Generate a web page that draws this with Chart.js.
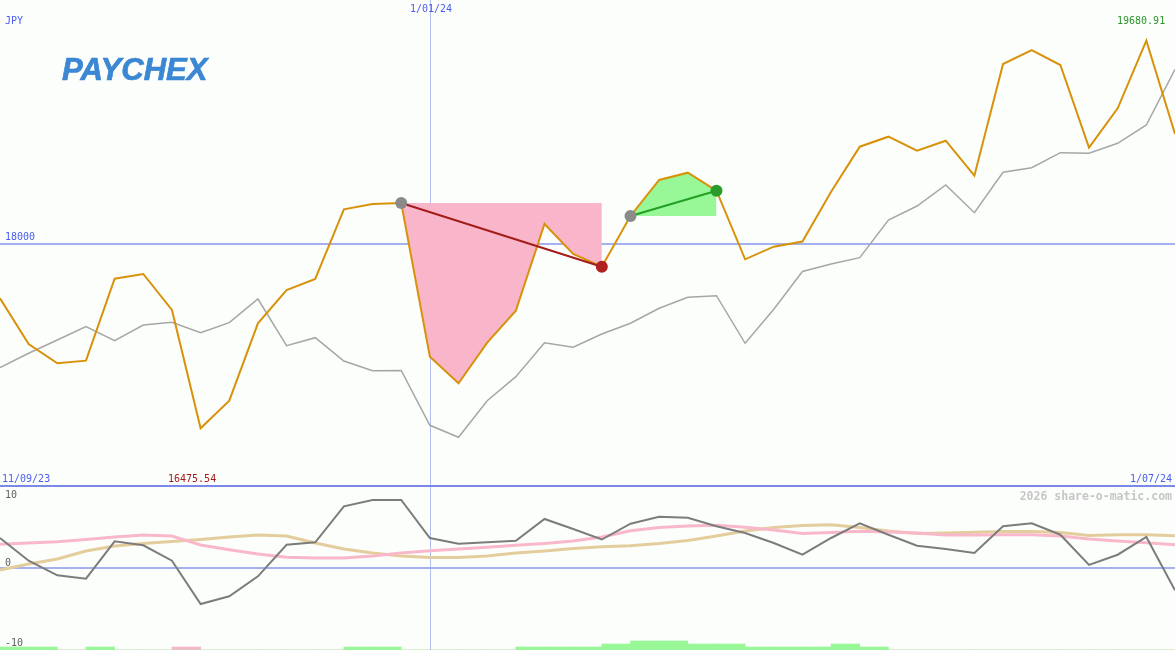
<!DOCTYPE html>
<html>
<head>
<meta charset="utf-8">
<script src="https://cdn.jsdelivr.net/npm/chart.js@4/dist/chart.umd.min.js"></script>
<style>
  body { margin: 0; background: #fcfefc; }
  #wrap { position: relative; width: 1175px; height: 650px; overflow: hidden; }
  .box { position: absolute; left: 0; width: 1175px; }
  .t { position: absolute; font: 10px "DejaVu Sans Mono", monospace; line-height: 10px; white-space: nowrap; }
</style>
</head>
<body>
<div id="wrap">
  <div class="box" style="top:0;height:488px"><canvas id="mainChart"></canvas></div>
  <div class="box" style="top:488px;height:162px"><canvas id="subChart"></canvas></div>
  <div style="position:absolute;left:0;top:485px;width:1175px;height:2px;background:#7b88e8"></div>

  <div class="t" style="left:5px;top:16px;color:#4b5cf0">JPY</div>
  <div class="t" id="markDate" style="left:410px;top:4px;color:#4b5cf0"></div>
  <div class="t" id="maxLabel" style="left:1117px;top:16px;color:#2a962a"></div>
  <div class="t" id="levelLabel" style="left:5px;top:232px;color:#4b5cf0"></div>
  <div class="t" id="startDate" style="left:2px;top:474px;color:#4b5cf0"></div>
  <div class="t" id="minLabel" style="left:168px;top:474px;color:#a01c1c"></div>
  <div class="t" id="endDate" style="left:1130px;top:474px;color:#4b5cf0"></div>
  <div class="t" style="right:3px;top:491px;font-size:11.5px;font-weight:bold;color:#c6c6c6">2026 share-o-matic.com</div>
  <div class="t" style="left:5px;top:490px;color:#606060">10</div>
  <div class="t" style="left:5px;top:558px;color:#606060">0</div>
  <div class="t" style="left:5px;top:638px;color:#606060">-10</div>
  <div style="position:absolute;left:62px;top:53px;font:italic bold 32px 'Liberation Sans',Arial,sans-serif;line-height:32px;color:#3b87d3;-webkit-text-stroke:0.7px #3b87d3;transform:scaleX(0.97);transform-origin:left top">PAYCHEX</div>
</div>

<script>
// dates on the x axis
var startDate = '11/09/23';
var markDate = '1/01/24';
var endDate = '1/07/24';
var markIndex = 15;
var priceLevel = 18000;

// price (orange) and average (gray)
var price = [17550.6, 17172.7, 17013.1, 17034.6, 17712.7, 17751.6, 17453.9, 16475.54, 16703.8, 17343.9,
             17619.3, 17710.2, 18286.7, 18330.5, 18338.7, 17067.7, 16847.7, 17183.4, 17448.1, 18165.1,
             17917.0, 17812.0, 18231.3, 18529.0, 18589.3, 18440.5, 17873.1, 17977.3, 18020.4, 18432.2,
             18804.3, 18887.0, 18771.3, 18854.0, 18564.5, 19488.3, 19604.0, 19480.0, 18796.1, 19121.9,
             19680.91, 18909.4];
var average = [16976.7, 17095.8, 17205.7, 17315.8, 17200.0, 17329.8, 17352.1, 17266.1, 17348.8, 17544.8,
               17158.6, 17224.8, 17032.1, 16951.9, 16953.5, 16500.3, 16401.1, 16703.8, 16902.3, 17183.4,
               17145.4, 17255.4, 17343.9, 17468.0, 17558.9, 17572.1, 17178.5, 17459.7, 17772.0, 17834.3,
               17886.4, 18198.2, 18313.9, 18487.6, 18258.5, 18592.6, 18630.7, 18754.8, 18749.8, 18832.5,
               18983.8, 19444.4];

// signals: sell 14 -> 21, buy 22 -> 25
var sellFrom = 14, sellTo = 21;
var buyFrom = 22, buyTo = 25;

// lower panel
var oscillator = [3.75, 0.91, -0.91, -1.34, 3.34, 2.84, 0.91, -4.5, -3.54, -1.04,
                  2.91, 3.21, 7.71, 8.5, 8.5, 3.75, 3.04, 3.21, 3.41, 6.13,
                  4.88, 3.56, 5.54, 6.41, 6.29, 5.21, 4.38, 3.13, 1.66, 3.75,
                  5.59, 4.16, 2.79, 2.38, 1.88, 5.21, 5.59, 4.16, 0.38, 1.66,
                  3.88, -2.79];
var pinkAvg = [2.96, 3.12, 3.29, 3.56, 3.88, 4.13, 4.0, 2.88, 2.29, 1.75,
               1.34, 1.25, 1.25, 1.5, 1.88, 2.16, 2.38, 2.59, 2.84, 3.06,
               3.38, 3.88, 4.66, 5.06, 5.25, 5.34, 5.09, 4.75, 4.31, 4.44,
               4.59, 4.5, 4.38, 4.13, 4.13, 4.16, 4.16, 4.0, 3.63, 3.38,
               3.16, 2.91];
var tanAvg = [-0.25, 0.5, 1.13, 2.13, 2.75, 3.06, 3.31, 3.56, 3.88, 4.13,
              4.0, 3.13, 2.38, 1.88, 1.5, 1.31, 1.31, 1.5, 1.88, 2.13,
              2.44, 2.66, 2.79, 3.06, 3.44, 4.0, 4.63, 5.06, 5.31, 5.41,
              5.06, 4.63, 4.31, 4.38, 4.46, 4.56, 4.56, 4.44, 4.06, 4.16,
              4.16, 4.04];
var upBars = [1, 1, 0, 1, 0, 0, 0, 0, 0, 0, 0, 0, 1, 1, 0, 0, 0, 0, 1, 1,
              1, 2, 3, 3, 2, 2, 1, 1, 1, 2, 1, 0, 0, 0, 0, 0, 0, 0, 0, 0, 0];
var downBars = [0, 0, 0, 0, 0, 0, 1, 0, 0, 0, 0, 0, 0, 0, 0, 0, 0, 0, 0, 0,
                0, 0, 0, 0, 0, 0, 0, 0, 0, 0, 0, 0, 0, 0, 0, 0, 0, 0, 0, 0, 0];

document.getElementById('markDate').textContent = markDate;
document.getElementById('startDate').textContent = startDate;
document.getElementById('endDate').textContent = endDate;
document.getElementById('levelLabel').textContent = priceLevel;
document.getElementById('maxLabel').textContent = Math.max.apply(null, price).toFixed(2);
document.getElementById('minLabel').textContent = Math.min.apply(null, price).toFixed(2);

var idx = price.map(function (v, i) { return i; });
var barIdx = upBars.map(function (v, i) { return i; });

function part(arr, from, to) {
    return arr.map(function (v, i) { return (i >= from && i <= to) ? v : null; });
}
function ends(arr, from, to) {
    return arr.map(function (v, i) { return (i === from || i === to) ? v : null; });
}

// guide lines drawn under the data
var guides = {
    id: 'guides',
    beforeDatasetsDraw: function (chart, args, opts) {
        var ctx = chart.ctx, a = chart.chartArea;
        var x = Math.round(chart.scales.x.getPixelForValue(markIndex)) + 0.5;
        ctx.save();
        ctx.strokeStyle = '#b2bdf0';
        ctx.lineWidth = 1;
        ctx.beginPath();
        ctx.moveTo(x, a.top);
        ctx.lineTo(x, a.bottom);
        ctx.stroke();
        var y = Math.round(chart.scales.y.getPixelForValue(opts.level));
        ctx.strokeStyle = '#a4b0f0';
        ctx.lineWidth = 2;
        ctx.beginPath();
        ctx.moveTo(a.left, y);
        ctx.lineTo(a.right, y);
        ctx.stroke();
        ctx.restore();
    }
};

var common = {
    responsive: true,
    maintainAspectRatio: false,
    animation: false,
    layout: { padding: 0, autoPadding: false },
    elements: { point: { radius: 0 }, line: { tension: 0 } },
    plugins: { legend: { display: false }, tooltip: { enabled: false } }
};

new Chart(document.getElementById('mainChart'), {
    type: 'line',
    data: {
        labels: idx,
        datasets: [
            {   // sell signal
                data: ends(price, sellFrom, sellTo), spanGaps: true, order: 0,
                borderColor: '#a31c1c', borderWidth: 2,
                pointRadius: 6, pointBorderWidth: 0,
                pointBackgroundColor: function (c) { return c.dataIndex === sellFrom ? '#8a8a8a' : '#b02222'; }
            },
            {   // buy signal
                data: ends(price, buyFrom, buyTo), spanGaps: true, order: 0,
                borderColor: '#22a022', borderWidth: 2,
                pointRadius: 6, pointBorderWidth: 0,
                pointBackgroundColor: function (c) { return c.dataIndex === buyFrom ? '#8a8a8a' : '#2a9a2a'; }
            },
            { data: price, order: 1, borderColor: '#d8920a', borderWidth: 2 },
            { data: average, order: 2, borderColor: '#a6a6a6', borderWidth: 1.5 },
            {
                data: part(price, sellFrom, sellTo), order: 3, borderWidth: 0,
                backgroundColor: '#f9b5ca', fill: { value: price[sellFrom] }
            },
            {
                data: part(price, buyFrom, buyTo), order: 3, borderWidth: 0,
                backgroundColor: '#98f898', fill: { value: price[buyFrom] }
            }
        ]
    },
    options: Object.assign({}, common, {
        scales: {
            x: { type: 'category', display: false, offset: false },
            y: { display: false, min: 15981.7, max: 20017.5 }
        },
        plugins: Object.assign({}, common.plugins, { guides: { level: priceLevel } })
    }),
    plugins: [guides]
});

new Chart(document.getElementById('subChart'), {
    type: 'line',
    data: {
        labels: idx,
        datasets: [
            { data: oscillator, order: 0, borderColor: '#7c7c7c', borderWidth: 2 },
            { data: pinkAvg, order: 1, borderColor: '#f9b8ca', borderWidth: 3 },
            { data: tanAvg, order: 1, borderColor: '#e4cd9c', borderWidth: 3 },
            { type: 'bar', data: upBars, xAxisID: 'xb', yAxisID: 'yb', order: 2, grouped: false,
              backgroundColor: '#98f898', barPercentage: 1, categoryPercentage: 1 },
            { type: 'bar', data: downBars, xAxisID: 'xb', yAxisID: 'yb', order: 2, grouped: false,
              backgroundColor: '#f9b5ca', barPercentage: 1, categoryPercentage: 1 }
        ]
    },
    options: Object.assign({}, common, {
        scales: {
            x: { type: 'category', display: false, offset: false },
            xb: { type: 'category', display: false, offset: true, labels: barIdx },
            y: { display: false, min: -10.25, max: 10 },
            yb: { display: false, min: 0, max: 54 }
        },
        plugins: Object.assign({}, common.plugins, { guides: { level: 0 } })
    }),
    plugins: [guides]
});
</script>
</body>
</html>
